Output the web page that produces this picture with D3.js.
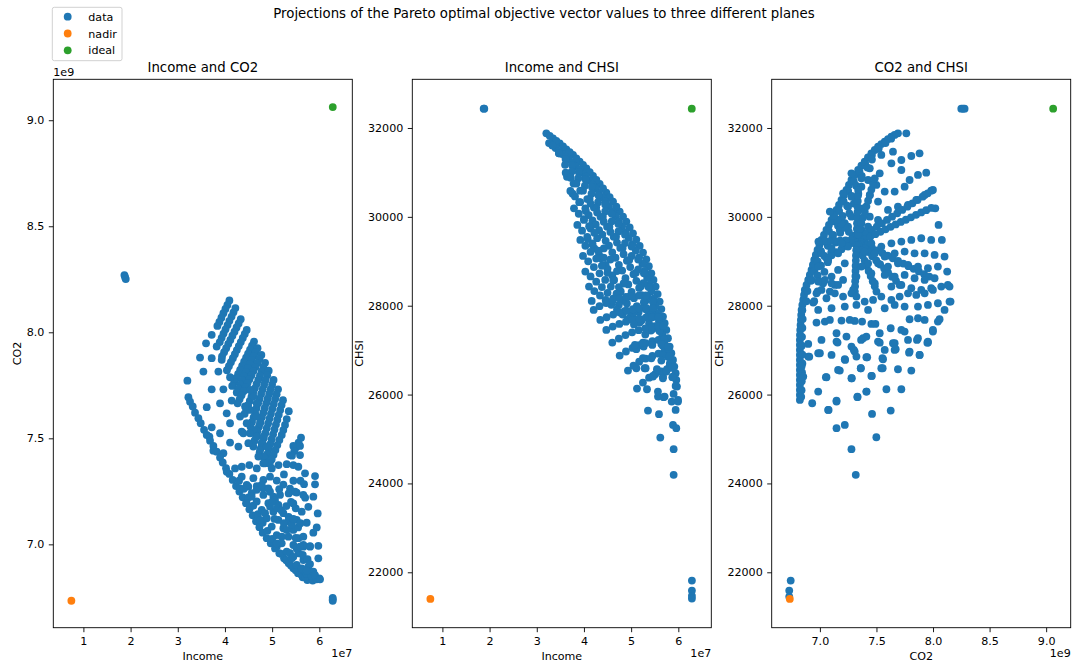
<!DOCTYPE html>
<html>
<head>
<meta charset="utf-8">
<script src="https://cdn.jsdelivr.net/npm/d3@7"></script>
<style>
body { margin: 0; background: #fff; }
text { font-family: "DejaVu Sans", sans-serif; fill: #000; }
</style>
</head>
<body>
<script>
// income in units of 1e7, CO2 in units of 1e9, CHSI as is
var nadir = [0.745, 6.734, 21400];
var ideal = [6.285, 9.062, 32435];

var incomeTicks = [1, 2, 3, 4, 5, 6];
var co2Ticks = [7.0, 7.5, 8.0, 8.5, 9.0];
var chsiTicks = [22000, 24000, 26000, 28000, 30000, 32000];

// Income vs CO2
var incomeCo2 = [
  [1.869,8.270],[1.884,8.260],[1.898,8.251],[6.284,6.748],[6.284,6.740],[6.284,6.734],
  [4.094,8.150],[4.052,8.129],[4.010,8.110],[3.967,8.090],[3.925,8.069],[3.882,8.049],[3.840,8.030],
  [4.221,8.114],[4.180,8.094],[4.140,8.074],[4.095,8.054],[4.055,8.034],[4.012,8.014],[3.970,7.994],[3.930,7.974],[3.890,7.954],
  [4.334,8.062],[4.290,8.042],[4.246,8.023],[4.202,8.003],[4.158,7.984],[4.114,7.964],[4.070,7.945],[4.026,7.925],[3.982,7.906],[3.938,7.886],
  [4.461,8.011],[4.420,7.992],[4.378,7.973],[4.336,7.954],[4.294,7.935],[4.252,7.916],[4.210,7.897],[4.168,7.878],[4.126,7.859],[4.084,7.840],[4.042,7.821],
  [4.616,7.956],[4.574,7.937],[4.532,7.918],[4.490,7.899],[4.448,7.880],[4.406,7.861],[4.364,7.842],[4.322,7.823],[4.280,7.804],[4.238,7.785],[4.196,7.766],[4.154,7.747],
  [4.69,7.925],[4.65,7.906],[4.61,7.887],[4.57,7.868],[4.53,7.849],[4.49,7.830],[4.45,7.811],[4.41,7.792],[4.37,7.773],[4.33,7.754],[4.29,7.735],[4.25,7.716],
  [4.772,7.893],[4.730,7.874],[4.688,7.855],[4.646,7.836],[4.604,7.817],[4.562,7.798],[4.520,7.779],[4.478,7.760],[4.436,7.741],[4.394,7.722],[4.352,7.703],[4.310,7.684],[4.268,7.665],
  [4.85,7.856],[4.814,7.836],[4.778,7.816],[4.742,7.796],[4.706,7.776],[4.670,7.756],[4.634,7.736],[4.598,7.716],[4.562,7.696],[4.526,7.676],[4.490,7.656],[4.454,7.636],[4.418,7.616],
  [4.927,7.819],[4.895,7.797],[4.863,7.775],[4.831,7.753],[4.799,7.731],[4.767,7.709],[4.735,7.687],[4.703,7.665],[4.671,7.643],[4.639,7.621],[4.607,7.599],[4.575,7.577],[4.543,7.555],
  [5.03,7.775],[4.999,7.753],[4.968,7.731],[4.937,7.709],[4.906,7.687],[4.875,7.665],[4.844,7.643],[4.813,7.621],[4.782,7.599],[4.751,7.577],[4.720,7.555],[4.689,7.533],[4.658,7.511],[4.627,7.489],
  [5.125,7.731],[5.095,7.708],[5.065,7.685],[5.035,7.662],[5.005,7.639],[4.975,7.616],[4.945,7.593],[4.915,7.570],[4.885,7.547],[4.855,7.524],[4.825,7.501],[4.795,7.478],[4.765,7.455],[4.735,7.432],
  [5.23,7.680],[5.20,7.657],[5.17,7.634],[5.14,7.611],[5.11,7.588],[5.08,7.565],[5.05,7.542],[5.02,7.519],[4.99,7.496],[4.96,7.473],[4.93,7.450],[4.90,7.427],[4.87,7.404],
  [5.353,7.628],[5.309,7.591],[5.273,7.563],[5.237,7.539],[5.203,7.516],[5.153,7.492],[5.110,7.468],[5.070,7.445],[5.030,7.422],[4.990,7.400],[4.950,7.380],
  [5.612,7.503],[5.560,7.480],[5.510,7.458],[5.449,7.464],[5.591,7.464],[5.379,7.421],[5.591,7.421],[5.470,7.440],[5.420,7.418],
  [3.719,7.988],[3.599,7.948],[3.825,7.933],[3.472,7.881],[3.719,7.878],[3.931,7.870],[3.543,7.815],[3.861,7.815],[4.108,7.788],
  [3.204,7.772],[3.719,7.731],[3.967,7.731],[3.614,7.647],[3.896,7.665],[4.143,7.678],[4.037,7.618],[3.719,7.552],[3.896,7.524],
  [4.108,7.571],[3.670,7.508],[3.755,7.442],[3.967,7.430],[4.108,7.480],[4.285,7.461],[4.355,7.532],
  [3.225,7.694],[3.260,7.673],[3.317,7.650],[3.366,7.621],[3.437,7.595],[3.486,7.571],[3.557,7.540],[3.614,7.516],[3.684,7.489],
  [3.755,7.464],[3.825,7.437],[3.896,7.409],[3.953,7.386],[4.023,7.359],[4.094,7.332],[4.164,7.304],[4.235,7.275],[4.306,7.249],
  [4.376,7.222],[4.447,7.194],[4.518,7.165],[4.588,7.137],[4.659,7.109],[4.730,7.081],[4.800,7.055],[4.885,7.029],[4.970,7.005],
  [5.061,6.981],[5.153,6.958],[5.252,6.934],[5.351,6.911],[5.450,6.887],[5.549,6.864],[5.648,6.845],[5.746,6.832],[5.860,6.829],
  [5.944,6.835],[6.001,6.840],
  [4.532,7.728],[4.602,7.697],[4.673,7.665],[4.532,7.634],[4.673,7.603],[4.744,7.571],[4.602,7.540],[4.673,7.508],[4.779,7.477],
  [4.744,7.445],[4.814,7.414],[4.461,7.571],[4.532,7.524],[4.426,7.650],[4.602,7.461],[4.708,7.414],[4.850,7.382],[4.814,7.508],
  [4.885,7.461],[4.496,7.477],[4.390,7.524],[4.320,7.603],
  [4.038,7.342],[4.214,7.358],[4.356,7.366],[4.517,7.374],[4.674,7.358],[4.813,7.382],[4.993,7.358],[5.135,7.374],[5.309,7.378],
  [5.449,7.374],[5.555,7.366],
  [4.320,7.264],[4.496,7.272],[4.674,7.275],[4.813,7.264],[4.955,7.248],
  [4.955,7.319],[5.097,7.301],[5.238,7.282],[5.379,7.263],[5.520,7.244],
  [4.30,7.300],[4.40,7.262],[4.50,7.222],[4.60,7.182],[4.70,7.142],[4.80,7.102],[4.90,7.064],[5.00,7.026],[5.10,6.990],
  [5.20,6.955],[5.30,6.925],[5.40,6.900],[5.50,6.878],[5.60,6.860],[5.70,6.846],
  [4.355,7.319],[4.461,7.280],[4.567,7.241],[4.673,7.202],[4.779,7.162],[4.885,7.123],[4.991,7.084],[5.097,7.044],[5.203,7.005],
  [5.309,6.966],[5.415,6.934],[5.520,6.903],[5.626,6.879],[5.732,6.860],[5.838,6.851],
  [4.602,7.312],[4.708,7.272],[4.814,7.233],[4.920,7.194],[5.026,7.154],[5.132,7.115],[5.238,7.076],[5.344,7.036],[5.450,6.997],
  [5.556,6.958],[5.662,6.926],[5.767,6.895],[5.873,6.871],
  [4.814,7.304],[4.920,7.264],[5.026,7.225],[5.132,7.186],[5.238,7.147],[5.344,7.107],[5.450,7.068],[5.556,7.029],[5.662,6.989],
  [4.461,7.194],[4.567,7.225],[4.673,7.257],[4.779,7.280],
  [4.744,7.115],[4.850,7.147],[4.955,7.178],[5.061,7.209],[5.167,7.233],
  [5.097,7.005],[5.203,7.036],[5.309,7.068],[5.415,7.092],[5.520,7.115],
  [5.379,6.958],[5.520,6.981],[5.662,6.997],[5.803,6.989],
  [5.00,7.200],[5.10,7.170],[5.20,7.160],[5.30,7.180],[5.40,7.200],[5.50,7.170],[5.05,7.120],[5.25,7.100],[5.35,7.130],
  [5.45,7.120],[5.55,7.080],[5.15,7.260],[5.35,7.240],[5.45,7.300],[5.25,7.330],[5.60,7.300],[5.70,7.220],[5.50,7.030],
  [5.60,7.100],[5.65,6.950],[5.75,6.930],
  [5.697,7.335],[5.909,7.322],[5.909,7.283],[5.676,7.284],[5.661,7.233],[5.873,7.225],[5.485,7.248],[5.449,7.193],[5.627,7.154],
  [5.767,7.177],[5.966,7.146],[5.733,7.102],[5.945,7.080],[5.873,7.055],[5.661,7.036],[5.979,6.993],[5.803,6.992],[5.591,6.989],
  [5.979,6.934],[5.803,6.907],[5.449,6.941],[5.627,6.887],[5.733,6.875],[5.909,6.855],[6.015,6.835]
];

// Income vs CHSI
var incomeChsi = [
  [1.875,32434],[1.888,32434],[6.288,21814],[6.288,21589],[6.288,21470],[6.288,21409],
  [3.203,31880],[3.344,31768],[3.486,31655],[3.627,31520],[3.768,31393],[3.909,31243],[4.051,31093],[4.192,30920],[4.333,30740],
  [4.474,30545],[4.616,30343],[4.757,30118],[4.898,29893],[5.039,29630],[5.181,29345],[5.322,29045],[5.428,28730],[5.519,28430],
  [5.604,28093],[5.675,27755],[5.745,27455],[5.816,27080],[5.887,26780],[5.943,26480],[5.971,26180],[5.993,25880],
  [3.274,31824],[3.415,31712],[3.557,31588],[3.698,31457],[3.839,31318],[3.980,31168],[4.122,31007],[4.263,30830],[4.404,30643],
  [4.545,30444],[4.687,30231],[4.828,30006],[4.969,29762],[5.110,29488],[5.252,29195],[5.375,28888],[5.474,28580],[5.562,28262],
  [5.640,27924],[5.710,27605],[5.781,27268],[5.852,26930],[5.915,26630],[5.957,26330],
  [3.26,31660],[3.40,31550],[3.54,31415],[3.68,31290],[3.82,31140],[3.97,30990],[4.11,30815],[4.25,30635],[4.39,30440],
  [4.53,30240],[4.67,30015],[4.81,29790],[4.95,29525],[5.10,29240],[5.24,28940],[5.34,28625],[5.43,28325],[5.52,27990],
  [5.59,27650],[5.66,27350],[5.74,27000],[5.82,26700],
  [3.33,31605],[3.47,31483],[3.61,31352],[3.75,31215],[3.90,31065],[4.04,30903],[4.18,30725],[4.32,30538],[4.46,30340],
  [4.60,30128],[4.74,29903],[4.88,29658],[5.03,29383],[5.17,29090],[5.29,28783],[5.39,28475],[5.48,28158],[5.56,27820],
  [5.63,27500],[5.70,27175],[5.78,26850],
  [3.47,31430],[3.61,31300],[3.75,31160],[3.89,31010],[4.03,30850],[4.17,30670],[4.31,30480],[4.45,30280],
  [4.59,30070],[4.73,29840],[4.87,29600],[5.01,29330],[5.15,29040],[5.27,28730],[5.37,28420],[5.46,28090],[5.53,27760],
  [5.60,27430],[5.67,27100],
  [3.60,31170],[3.74,31020],[3.88,30870],[4.02,30700],[4.16,30520],[4.30,30330],[4.45,30120],
  [4.59,29900],[4.73,29670],[4.87,29410],[5.01,29120],[5.15,28820],[5.26,28510],[5.35,28200],[5.43,27870],[5.50,27540],
  [3.70,30910],[3.84,30750],[3.98,30590],[4.12,30400],[4.26,30210],[4.40,30000],[4.54,29780],
  [4.68,29550],[4.82,29300],[4.96,29030],[5.10,28740],[5.21,28440],[5.31,28120],[5.39,27800],[5.46,27480],
  [3.64,30900],[3.78,30750],[3.92,30590],[4.07,30400],[4.21,30210],[4.35,30000],[4.49,29780],[4.63,29550],
  [4.77,29300],[4.91,29010],[5.05,28710],[5.17,28400],[5.27,28080],[5.35,27760],[5.42,27440],
  [4.14,30300],[4.28,30100],[4.42,29890],[4.56,29660],[4.70,29420],[4.84,29160],[4.98,28870],[5.11,28560],[5.22,28240],
  [5.31,27920],[5.38,27600],
  [3.76,30520],[3.90,30330],[4.04,30130],[4.18,29920],[4.32,29700],[4.46,29460],[4.60,29200],[4.74,28920],
  [4.88,28620],[5.01,28310],[5.12,27990],[5.22,27670],[5.30,27350],
  [4.10,30040],[4.25,29830],[4.39,29600],[4.53,29350],[4.67,29080],[4.81,28790],[4.94,28480],[5.06,28170],[5.16,27860],
  [4.00,29950],[4.14,29740],[4.28,29520],[4.42,29290],[4.56,29040],[4.70,28780],[4.84,28500],[4.97,28210],[5.08,27910],[5.18,27620],
  [4.18,29380],[4.32,29150],[4.46,28920],[4.60,28680],[4.74,28420],[4.88,28150],[5.00,27870],
  [4.08,29500],[4.22,29290],[4.36,29070],[4.50,28830],[4.64,28580],[4.78,28320],[4.91,28050],[5.03,27780],
  [3.471,31430],[3.613,30995],[3.712,30583],[3.789,30193],[3.860,29818],[3.923,29480],[3.980,29120],[4.029,28768],[4.107,28430],
  [4.164,28108],[4.206,27905],[4.347,27680],[4.474,27455],[4.601,27170],[4.757,26878],[4.933,26540],[5.124,26135],[5.336,26120],
  [5.357,25640],[5.590,25558],[5.618,25033],[5.901,24770],[5.901,24193],[5.887,25318],[5.957,25243],[5.569,25955],[5.710,25955],
  [5.286,26593],[5.110,26593],[5.463,26405],[5.675,26405],[5.887,26405],[5.816,26630],
  [3.72,30880],[3.83,30760],
  [3.81,30460],[3.92,30330],[4.03,30190],
  [3.89,30070],[4.00,29930],[4.11,29790],[4.22,29640],
  [3.96,29690],[4.07,29550],[4.18,29400],[4.30,29240],[4.42,29080],
  [4.03,29350],[4.14,29210],[4.26,29060],[4.38,28900],[4.50,28740],[4.62,28570],
  [4.09,29000],[4.21,28870],[4.33,28730],[4.45,28580],[4.57,28430],[4.69,28270],[4.81,28110],
  [4.14,28660],[4.26,28540],[4.38,28420],[4.50,28290],[4.62,28160],[4.74,28020],[4.86,27880],[4.98,27740],
  [4.22,28330],[4.34,28230],[4.46,28130],[4.58,28020],[4.70,27910],[4.82,27800],[4.94,27690],[5.06,27580],
  [4.33,27990],[4.47,28060],[4.61,28120],[4.75,28170],[4.89,28200],[5.03,28220],[5.17,28230],[5.31,28230],
  [4.48,27740],[4.62,27800],[4.76,27850],[4.90,27890],[5.04,27920],[5.18,27940],[5.32,27950],[5.46,27950],
  [4.61,27530],[4.75,27590],[4.89,27640],[5.03,27680],[5.17,27710],[5.31,27730],[5.45,27740],[5.58,27740],
  [4.74,27260],[4.88,27340],[5.02,27400],[5.16,27450],[5.30,27490],[5.44,27520],[5.58,27540],[5.68,27550],
  [4.89,26970],[5.03,27050],[5.17,27110],[5.31,27160],[5.45,27200],[5.58,27230],[5.70,27250],
  [5.05,26650],[5.17,26740],[5.31,26810],[5.45,26870],[5.58,26920],[5.70,26960],[5.80,26990],
  [5.25,26270],[5.38,26380],[5.51,26460],[5.64,26520],[5.76,26570],[5.86,26600],
  [5.568,26067],[5.688,25941],[5.860,25842],[5.993,25842],[5.900,26015],[5.943,26195],[5.943,25655],
  [5.462,26420],[5.674,26368],[5.873,26391],[5.307,26593],[5.547,26571],[5.746,26517],[5.873,26616],
  [5.250,26818],[5.428,26818],[5.674,26893],[5.816,26870],[5.640,26765],
  [5.110,27021],[5.265,27080],[5.449,27118],[5.640,27140],[5.780,27080],[5.080,27118],[5.250,27170]
];

// CO2 vs CHSI
var co2Chsi = [
  [8.250,32434],[8.265,32434],[8.279,32434],[6.742,21814],[6.729,21589],[6.729,21454],
  [7.764,31880],[7.690,31880],[7.632,31805],[7.573,31693],[7.514,31580],[7.455,31430],[7.396,31243],[7.338,31055],[7.279,30830],
  [7.235,30605],[7.191,30380],[7.147,30155],[7.103,29930],[7.058,29705],[7.014,29480],[6.979,29255],[6.950,29030],[6.926,28805],
  [6.897,28580],[6.867,28355],[6.853,28130],[6.838,27905],[6.832,27680],[6.826,27455],[6.823,27230],[6.823,27005],[6.823,26780],
  [6.823,26555],[6.823,26330],[6.823,26105],[6.823,25880],
  [7.660,31845],[7.602,31750],[7.543,31637],[7.485,31505],[7.425,31337],[7.367,31150],[7.308,30942],[7.257,30718],[7.213,30492],
  [7.169,30267],[7.125,30042],[7.080,29817],[7.036,29592],[6.996,29367],[6.964,29142],[6.938,28917],[6.911,28692],[6.882,28467],
  [6.860,28242],[6.845,28017],[6.835,27792],[6.829,27567],[6.824,27342],[6.823,27117],[6.823,26892],[6.823,26667],[6.823,26442],
  [6.823,26217],[6.823,25992],
  [6.845,27900],[6.848,27700],[6.845,27500],[6.842,27300],[6.840,27100],[6.845,26900],[6.845,26700],[6.842,26500],[6.840,26300],
  [6.838,26100],[6.835,25950],
  [7.63,31760],[7.58,31660],[7.52,31540],[7.46,31390],[7.40,31200],[7.35,31020],[7.30,30800],[7.25,30580],[7.21,30350],
  [7.17,30130],[7.12,29900],[7.08,29680],[7.04,29450],[7.01,29230],[6.98,29000],[6.95,28780],[6.92,28560],[6.89,28330],[6.88,28100],
  [7.46,31290],[7.42,31110],[7.37,30920],[7.32,30700],[7.28,30470],[7.24,30250],[7.20,30020],[7.16,29800],[7.11,29580],
  [7.07,29350],[7.04,29120],[7.01,28900],[6.98,28680],
  [7.34,30520],[7.30,30300],[7.26,30080],[7.22,29860],[7.18,29640],[7.14,29420],[7.10,29200],[7.07,28980],[7.04,28760],
  [7.01,28540],[6.98,28320],[6.95,28100],
  [7.881,31430],[7.940,30995],[7.984,30590],[8.020,30193],[8.049,29818],[8.078,29480],[8.102,29105],[8.125,28768],[8.146,28430],
  [8.155,28093],[8.102,27905],[8.043,27642],[7.999,27417],[7.955,27170],[7.882,26893],
  [7.646,31468],[7.543,31393],[7.720,31280],[7.808,31370],[7.441,31093],[7.529,30980],[7.632,31205],[7.720,31055],[7.793,30830],
  [7.867,30943],[7.426,30830],[7.499,30718],[7.573,30568],[7.661,30568],[7.749,30680],[7.852,30380],[7.926,30493],[7.367,30680],
  [7.441,30493],[7.514,30343],[7.602,30155],[7.690,30230],[7.779,30268],[7.323,30380],[7.382,30193],[7.441,30005],[7.514,29930],
  [7.279,30455],[7.249,30230],[7.191,29930],[7.176,29705],[7.117,29593],[7.249,29780],[7.279,30005],[7.367,29705],[7.426,29780],
  [7.205,30530],[7.279,30980],[7.367,30868],
  [7.323,29480],
  [7.368,29555],[7.413,29630],[7.458,29705],[7.503,29780],[7.548,29855],[7.593,29930],[7.638,30005],[7.683,30080],[7.728,30155],
  [7.773,30230],[7.818,30305],[7.863,30380],[7.908,30455],[7.953,30530],[7.999,30605],
  [7.40,29500],[7.445,29555],[7.49,29610],[7.535,29665],[7.58,29720],[7.625,29775],[7.67,29830],[7.715,29885],[7.76,29935],
  [7.805,29990],[7.85,30045],[7.895,30100],[7.94,30150],[7.985,30200],
  [7.369,29421],[7.415,29362],[7.461,29303],[7.507,29244],[7.553,29185],[7.599,29126],[7.645,29067],[7.691,29008],[7.737,28949],
  [7.783,28890],[7.829,28831],[7.875,28772],[7.921,28713],[7.967,28655],
  [7.358,29388],[7.393,29296],[7.428,29204],[7.463,29112],[7.498,29020],[7.533,28928],[7.568,28836],[7.603,28744],[7.638,28652],
  [7.673,28560],[7.706,28468],
  [7.341,29364],[7.359,29248],[7.377,29132],[7.395,29016],[7.413,28900],[7.431,28784],[7.449,28668],[7.467,28552],[7.485,28436],
  [7.500,28318],
  [7.322,29364],[7.321,29248],[7.319,29132],[7.318,29016],[7.316,28900],[7.315,28784],[7.314,28668],[7.312,28552],[7.311,28436],
  [7.309,28318],
  [7.279,29411],[7.235,29342],[7.191,29273],[7.147,29204],[7.103,29135],[7.059,29068],
  [7.275,29475],[7.227,29470],[7.179,29465],[7.131,29460],[7.083,29455],[7.035,29450],[6.987,29443],
  [7.289,29571],[7.256,29662],[7.222,29753],[7.189,29844],[7.155,29935],[7.122,30026],[7.088,30118],
  [7.325,29605],[7.327,29730],[7.328,29855],[7.330,29980],[7.332,30105],[7.333,30230],[7.335,30355],[7.337,30480],[7.338,30605],
  [7.338,29606],[7.352,29732],[7.367,29858],[7.382,29984],[7.397,30110],[7.411,30236],[7.426,30362],[7.441,30488],[7.455,30614],
  [7.470,30740],[7.485,30868],
  [7.455,29405],[7.543,29330],[7.632,29405],[7.720,29443],[7.808,29480],[7.896,29518],[7.984,29480],
  [7.485,29180],[7.573,29105],[7.661,29180],[7.749,29218],[7.837,29180],[7.926,29180],[8.014,29143],
  [7.514,28955],[7.602,28880],[7.690,28955],[7.779,28918],[7.867,28880],[7.955,28843],[8.043,28880],
  [7.573,28693],[7.661,28655],[7.749,28693],[7.837,28618],[7.926,28580],[8.014,28618],
  [7.632,28430],[7.720,28468],[7.808,28393],[7.896,28355],[7.984,28393],[8.073,28430],
  [7.396,29218],[7.426,28955],[7.455,28730],[7.485,28505],[7.367,28880],[7.323,28655],[7.294,28355],
  [7.220,28955],[7.161,28805],[7.103,28655],[7.029,28505],[7.205,28580],[7.132,28468],
  [7.249,29330],[7.161,29180],[7.073,29030],[6.985,28880],[7.191,29405],[7.103,29293],[7.014,29180],
  [6.926,28580],[6.985,28543],[7.044,28580],[7.103,28505],[7.161,28468],[7.014,28355],[7.088,28318],
  [6.970,28280],[7.058,28168],[7.132,28280],[7.205,28205],[7.279,28280],[7.323,28205],[7.396,28093],[7.470,28130],[7.543,28205],
  [7.632,28130],[7.705,28205],[7.779,28280],[7.852,28243],[7.926,28280],[7.999,28355],[8.131,28468],
  [6.941,28070],[6.985,27905],[7.103,27943],[7.220,27980],[7.323,28018],[7.426,27905],[7.573,27943],[7.661,28018],[7.749,27980],
  [7.867,27980],[7.955,28018],[8.043,28055],[8.146,28093],
  [6.970,27620],[7.044,27643],[7.088,27680],[7.191,27665],[7.264,27680],[7.308,27658],[7.373,27643],[7.455,27590],[7.491,27590],
  [7.626,27493],[7.720,27455],[7.793,27695],[7.867,27718],[7.926,27680],[8.058,27695],
  [7.014,27230],[7.147,27380],[7.235,27305],[7.147,27193],[7.279,27080],[7.308,26968],[7.382,27268],[7.411,27305],[7.514,27193],
  [7.529,27380],[7.661,27155],[7.661,27005],[7.749,27418],[7.867,27268],[7.999,27455],[7.955,27193],
  [6.897,26855],[6.985,26930],[7.103,26893],[7.220,26795],[7.323,26855],[7.411,26840],[7.558,26795],[7.573,27005],[7.793,26968],
  [7.881,26893],
  [6.838,26630],[6.853,26405],[7.058,26390],[7.176,26540],[7.279,26368],[7.361,26593],[7.455,26420],[7.543,26593],[7.690,26570],
  [7.808,26540],
  [6.985,26068],[7.147,25843],[6.932,25805],[7.073,25655],[7.332,25955],[7.411,26068],[7.588,26120],[7.720,26120],[7.461,25565],
  [7.626,25640],
  [7.147,25243],[7.220,25318],[7.279,24770],[7.499,25040],[7.317,24193],
  [7.950,27169],[7.788,26944],[7.553,26818],[7.555,26593],[7.459,26420],[7.412,26067],[7.418,26840],[7.362,26593],[7.282,26368],
  [7.332,25941],[7.223,26780],[7.161,26555],[7.053,26391],[7.147,25864],[7.077,25655],[6.906,26854],[7.000,26930],[7.156,27170],
  [7.300,27005],[7.364,27230],[7.529,27169],[7.646,27156],[7.670,27021],[7.779,27230],[7.858,27230],[6.897,27140]
];

var w = 1079, h = 666;
var plotTop = 79.3, plotBottom = 627.7, plotW = 299;
var blue = "#1f77b4", orange = "#ff7f0e", green = "#2ca02c";

var svg = d3.select("body")
    .append("svg")
    .attr("width", w)
    .attr("height", h);

svg.append("rect").attr("width", w).attr("height", h).attr("fill", "#fff");

var panels = [
  {left: 53.3, title: "Income and CO2", data: incomeCo2, xi: 0, yi: 1,
   xDom: [0.362, 6.699], yDom: [6.607, 9.193], xTicks: incomeTicks, yTicks: co2Ticks,
   xFmt: d3.format("d"), yFmt: d3.format(".1f"), xLabel: "Income", yLabel: "CO2",
   xOff: "1e7", yOff: "1e9", yLabelX: 20.7},
  {left: 412.3, title: "Income and CHSI", data: incomeChsi, xi: 0, yi: 2,
   xDom: [0.362, 6.699], yDom: [20753, 33096], xTicks: incomeTicks, yTicks: chsiTicks,
   xFmt: d3.format("d"), yFmt: d3.format("d"), xLabel: "Income", yLabel: "CHSI",
   xOff: "1e7", yOff: null, yLabelX: 363},
  {left: 771.7, title: "CO2 and CHSI", data: co2Chsi, xi: 1, yi: 2,
   xDom: [6.574, 9.217], yDom: [20753, 33096], xTicks: co2Ticks, yTicks: chsiTicks,
   xFmt: d3.format(".1f"), yFmt: d3.format("d"), xLabel: "CO2", yLabel: "CHSI",
   xOff: "1e9", yOff: null, yLabelX: 722.5}
];

panels.forEach(function (p) {
    var x = d3.scaleLinear().domain(p.xDom).range([0, plotW]);
    var y = d3.scaleLinear().domain(p.yDom).range([plotBottom - plotTop, 0]);
    var g = svg.append("g").attr("transform", "translate(" + p.left + "," + plotTop + ")");

    // points
    g.append("g").selectAll("circle")
        .data(p.data)
        .enter()
        .append("circle")
        .attr("cx", function (d) { return x(d[0]); })
        .attr("cy", function (d) { return y(d[1]); })
        .attr("r", 3.9)
        .attr("fill", blue);

    g.append("circle")
        .attr("cx", x(nadir[p.xi])).attr("cy", y(nadir[p.yi]))
        .attr("r", 3.9).attr("fill", orange);
    g.append("circle")
        .attr("cx", x(ideal[p.xi])).attr("cy", y(ideal[p.yi]))
        .attr("r", 3.9).attr("fill", green);

    // axes
    var xAxis = g.append("g")
        .attr("transform", "translate(0," + (plotBottom - plotTop) + ")")
        .call(d3.axisBottom(x).tickValues(p.xTicks).tickFormat(p.xFmt).tickSize(4.5).tickPadding(5));
    var yAxis = g.append("g")
        .call(d3.axisLeft(y).tickValues(p.yTicks).tickFormat(p.yFmt).tickSize(4.5).tickPadding(4.5));
    [xAxis, yAxis].forEach(function (a) {
        a.select(".domain").remove();
        a.selectAll("line").attr("stroke", "#000").attr("stroke-width", 0.9);
        a.selectAll("text").attr("font-size", "11.1px").attr("font-family", "DejaVu Sans").attr("fill", "#000");
    });

    g.append("rect")
        .attr("width", plotW).attr("height", plotBottom - plotTop)
        .attr("fill", "none").attr("stroke", "#000").attr("stroke-width", 0.9);

    // titles and labels
    g.append("text")
        .attr("x", plotW / 2).attr("y", -7)
        .attr("text-anchor", "middle").attr("font-size", "13.3px")
        .text(p.title);
    g.append("text")
        .attr("x", plotW / 2).attr("y", 660 - plotTop)
        .attr("text-anchor", "middle").attr("font-size", "11.1px")
        .text(p.xLabel);
    g.append("text")
        .attr("x", plotW).attr("y", 657 - plotTop)
        .attr("text-anchor", "end").attr("font-size", "11.1px")
        .text(p.xOff);
    if (p.yOff) {
        g.append("text")
            .attr("x", 0).attr("y", -3.5)
            .attr("font-size", "11.1px")
            .text(p.yOff);
    }
    svg.append("text")
        .attr("transform", "translate(" + p.yLabelX + "," + ((plotTop + plotBottom) / 2) + ") rotate(-90)")
        .attr("text-anchor", "middle").attr("font-size", "11.1px")
        .text(p.yLabel);
});

// figure title
svg.append("text")
    .attr("x", 544).attr("y", 18)
    .attr("text-anchor", "middle").attr("font-size", "13.3px")
    .text("Projections of the Pareto optimal objective vector values to three different planes");

// legend
var legendItems = [["data", blue], ["nadir", orange], ["ideal", green]];
var legend = svg.append("g");
legend.append("rect")
    .attr("x", 52.3).attr("y", 7.3).attr("width", 69.7).attr("height", 53.4)
    .attr("rx", 2).attr("fill", "#fff").attr("fill-opacity", 0.8)
    .attr("stroke", "#cccccc").attr("stroke-width", 0.9);
legendItems.forEach(function (d, i) {
    var cy = 16.7 + i * 16.8;
    legend.append("circle").attr("cx", 67.7).attr("cy", cy).attr("r", 3.9).attr("fill", d[1]);
    legend.append("text").attr("x", 88.3).attr("y", cy + 4).attr("font-size", "11.1px").text(d[0]);
});
</script>
</body>
</html>
